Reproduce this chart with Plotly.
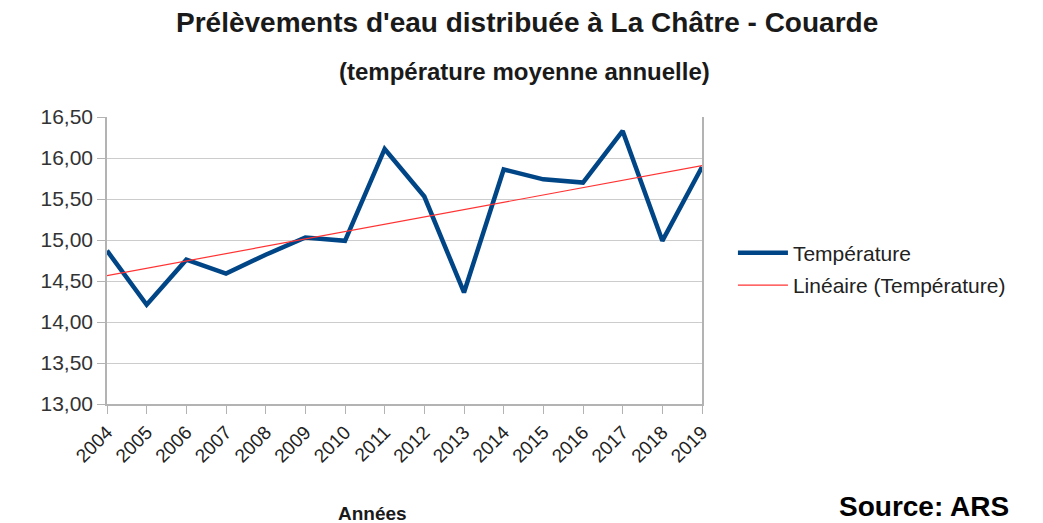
import plotly.graph_objects as go
import numpy as np

annees = list(range(2004, 2020))
temperature = [14.87, 14.21, 14.76, 14.59, 14.82, 15.03, 14.99, 16.11,
               15.53, 14.36, 15.86, 15.74, 15.70, 16.33, 14.99, 15.89]
y_ticks = [13.0, 13.5, 14.0, 14.5, 15.0, 15.5, 16.0, 16.5]

# tendance linéaire (comme la courbe de tendance du tableur)
pente, origine = np.polyfit(annees, temperature, 1)
tendance = [pente * a + origine for a in annees]

FONT = "Liberation Sans"
W, H = 1043, 523
# la page html ajoute 8 px de marge autour de la figure
OFF = 8
L, T, R, B = 107 - OFF, 117 - OFF, W - 702 + OFF, H - 404 + OFF

fig = go.Figure()

fig.add_trace(go.Scatter(
    x=annees, y=temperature, mode='lines', name='Température',
    line=dict(color='#004586', width=4.5),
    legendgroup='a'
))
fig.add_trace(go.Scatter(
    x=[annees[0], annees[-1]], y=[tendance[0], tendance[-1]], mode='lines',
    name='Linéaire (Température)',
    line=dict(color='#ff3333', width=1.2),
    legendgroup='b'
))


def px_ann(text, x, y, size, color='#1a1a1a'):
    # position en pixels de la capture -> coordonnées paper
    return dict(text=text, showarrow=False, xref='paper', yref='paper',
                x=(x - OFF - L) / (W - L - R),
                y=1 - (y - OFF - T) / (H - T - B),
                xanchor='center', yanchor='middle',
                font=dict(size=size, color=color, family=FONT))


fig.update_layout(
    width=W, height=H,
    margin=dict(l=L, r=R, t=T, b=B),
    paper_bgcolor='white', plot_bgcolor='white',
    separators=', ',
    font=dict(family=FONT, color='#333333'),
    xaxis=dict(
        range=[2004, 2019], tickvals=annees, ticktext=[str(a) for a in annees],
        tickangle=-45, tickfont=dict(size=19, color='#222222'),
        showgrid=False, showline=True, linecolor='#b3b3b3', linewidth=1.5,
        ticks='outside', ticklen=8, tickcolor='#b3b3b3',
        zeroline=False
    ),
    yaxis=dict(
        range=[13, 16.5], tickvals=y_ticks, tickformat='.2f',
        tickfont=dict(size=21, color='#333333'),
        showgrid=True, gridcolor='#cccccc', gridwidth=1.2,
        showline=True, linecolor='#b3b3b3', linewidth=1.5, mirror=True,
        ticks='outside', ticklen=8, tickcolor='#b3b3b3',
        zeroline=False
    ),
    legend=dict(
        x=1.052, xanchor='left', y=0.47, yanchor='middle',
        font=dict(size=21, color='#222222', family=FONT),
        traceorder='grouped', tracegroupgap=2, itemwidth=50,
        bgcolor='rgba(0,0,0,0)'
    ),
    annotations=[
        px_ann("<b>Prélèvements d'eau distribuée à La Châtre - Couarde</b>", 527, 22, 28),
        px_ann("<b>(température moyenne annuelle)</b>", 524, 72, 24),
        px_ann("<b>Années</b>", 372, 513, 19),
        px_ann("<b>Source: ARS</b>", 924, 506, 28, '#000000'),
    ]
)

fig.write_html("out.html")
